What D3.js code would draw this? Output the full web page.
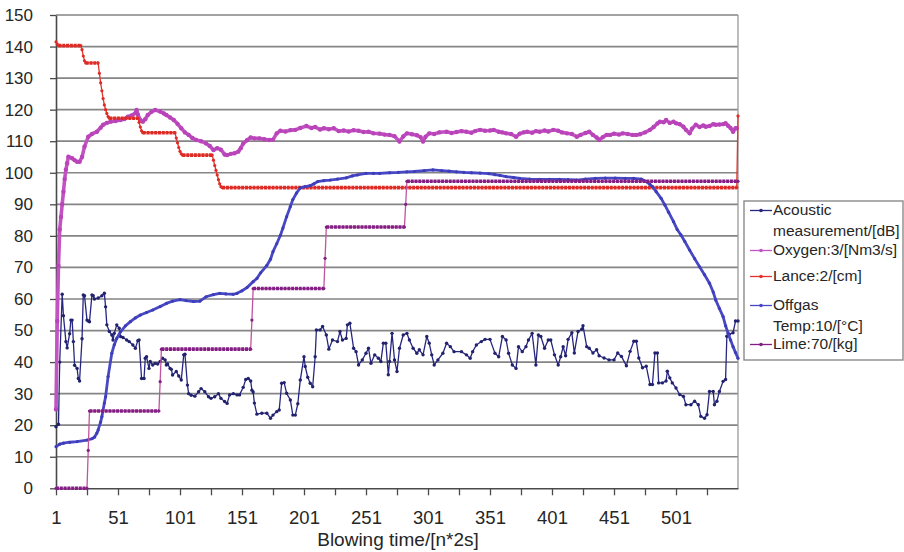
<!DOCTYPE html>
<html>
<head>
<meta charset="utf-8">
<script src="https://cdn.jsdelivr.net/npm/d3@7/dist/d3.min.js"></script>
<style>
  body { margin: 0; background: #fff; }
  text { font-family: "Liberation Sans", Arial, sans-serif; fill: #262626; }
</style>
</head>
<body>
<script>

// [blowing time index, value]
const acoustic = [[1,19.5],[3,20.3],[4,40],[6,61.5],[7,54.7],[9,46.5],[10,44.5],[12,49],[13,53.3],[14,53.3],[15,46.5],[16,39],[18,38],[19,34.8],[20,34],[22,47.4],[23,61.3],[24,61],[26,53.3],[27,53],[28,52.8],[30,61.3],[31,61],[32,60],[35,60.3],[38,61],[40,61.8],[41,57.5],[42,51.8],[44,49.7],[46,48.6],[47,47],[48,49.1],[50,51.8],[52,50.7],[53,48.1],[55,47.8],[58,47],[60,46.5],[63,45.4],[65,44.4],[67,46.8],[68,47],[70,34.8],[72,34.8],[73,41.2],[74,41.7],[76,38],[77,40.2],[79,39.1],[81,39.6],[83,39.4],[85,40.2],[87,41.2],[89,40.7],[90,39.1],[91,39.4],[93,38],[94,37.7],[95,35.9],[98,37],[100,35.6],[102,34.3],[104,42.3],[105,42.5],[107,32.7],[108,30],[110,29.5],[113,29.2],[116,30.6],[118,31.6],[121,30.6],[124,29],[126,28.5],[129,29],[132,30],[134,28.5],[137,27.5],[139,26.9],[141,29.6],[144,30],[147,29.6],[149,29.6],[152,32],[154,34.5],[156,34.8],[158,34],[159,31.1],[160,30.5],[161,27],[163,23.5],[167,23.8],[171,23.8],[174,22.2],[176,23.2],[179,24.3],[181,24.8],[183,33.3],[185,33.5],[187,30.1],[190,28],[192,23.2],[194,23.2],[196,26.8],[198,34.3],[201,41.7],[202,38.6],[204,35.2],[206,33.3],[208,32.2],[210,41.7],[211,50.2],[214,50.2],[216,51.3],[219,48.6],[221,44.1],[224,47],[228,46.5],[230,49.7],[232,47],[235,47.5],[236,51.8],[238,52.3],[241,44.4],[243,43.3],[245,39.1],[248,40.7],[251,42.8],[253,44.4],[255,39.6],[258,42.3],[261,41.2],[263,40.2],[265,46],[267,46],[269,36],[270,40.2],[272,49.1],[274,40.7],[276,37],[278,44.4],[281,48.6],[284,49.1],[286,47],[289,44.4],[292,42.8],[294,43.9],[297,42.3],[300,48.1],[302,46],[304,42.3],[306,39.1],[309,40.7],[313,42.8],[316,46],[319,44.9],[322,43.3],[328,43.3],[332,42.3],[335,41.2],[337,43.3],[340,45.4],[344,46.5],[347,47.2],[351,47.2],[355,42.8],[358,41.7],[361,48.1],[364,47],[366,42.8],[369,39.1],[372,38],[374,44.9],[377,43.3],[380,44.9],[382,47],[385,49.1],[388,39.1],[390,48.6],[392,48.1],[395,44.4],[398,47],[400,47],[403,42.3],[406,39.1],[408,41.7],[410,44.9],[412,42],[414,47.2],[417,49.3],[419,42.9],[422,49.7],[425,50.4],[426,51.5],[429,44.9],[431,44.4],[434,42.9],[437,43.9],[439,42],[443,41.3],[447,40.7],[451,40.7],[454,42.9],[457,41.8],[461,38.8],[464,43.4],[467,46.6],[469,46.6],[471,41.3],[474,38.2],[477,38.7],[480,32.9],[482,32.9],[484,42.9],[486,42.9],[487,33.4],[490,33.4],[493,34],[494,37.1],[496,35],[498,33.4],[501,31.8],[504,29.7],[507,29.1],[509,26.5],[513,26.5],[516,27.6],[519,26.5],[521,22.8],[524,22.2],[526,23.3],[528,30.7],[531,30.7],[532,26.5],[534,27.6],[536,30.7],[539,33.9],[541,34.5],[542,48.2],[544,48.8],[547,49.3],[549,53],[551,53]];

const oxygen = [[1,25],[2,53],[3,70.5],[4,82],[5,86],[6,90],[7,94],[8,98],[9,101],[10,103],[11,105.1],[14,104.6],[16,104],[18,103.5],[20,103.5],[22,105],[24,108.3],[27,111.4],[30,112.3],[34,113],[37,114.3],[39,115.2],[42,115.8],[45,116.2],[49,116.4],[53,116.7],[56,117],[59,117.8],[62,118.2],[65,118.9],[66,119.9],[67,118.5],[69,116.7],[71,116.2],[73,117],[75,118.3],[78,119.3],[81,119.9],[85,119.4],[88,118.8],[90,118.3],[93,117.5],[96,116.7],[99,115.5],[102,114.1],[105,112.8],[108,112],[111,111],[114,110.4],[118,110],[122,109.3],[125,108.5],[128,107.2],[131,107.8],[134,107.3],[137,105.8],[139,105.6],[142,106],[145,106.2],[148,106.7],[150,107.8],[152,109.3],[155,110.3],[158,111.2],[161,110.9],[165,110.9],[169,110.6],[173,110.4],[176,110.5],[179,112.5],[182,113.3],[186,113.1],[190,113.5],[194,113.6],[198,114.2],[203,114.8],[207,114.2],[210,114.5],[214,113.7],[217,114.1],[221,113.8],[225,114.1],[229,113.2],[233,113.4],[237,113.1],[241,113.5],[245,113.3],[249,112.9],[253,113],[257,112.5],[262,112.4],[266,112.1],[270,112],[274,111.6],[278,109.9],[281,111.5],[284,112.5],[288,112.2],[292,111.9],[295,111.3],[297,109.9],[299,111.4],[302,112.5],[306,112.3],[310,112.8],[316,113],[320,112.6],[324,112.9],[328,113.2],[332,113],[336,112.7],[339,113.2],[343,113.6],[347,113.3],[351,113.4],[354,113.6],[358,113],[361,112.8],[364,112.5],[368,112.3],[372,111.4],[375,112.4],[378,112.8],[381,113],[385,112.7],[388,113.2],[391,113],[395,113.4],[398,113.1],[402,113.6],[406,113.3],[409,112.8],[413,112.5],[417,112.3],[421,111.4],[424,112],[428,112.6],[431,113],[434,112],[437,111.2],[439,110.4],[442,111.3],[445,112],[448,112],[451,112.4],[455,112.1],[458,112.5],[462,112.3],[466,112],[469,112],[472,112.2],[476,112.8],[480,113.6],[483,114.5],[486,115.6],[488,116.2],[491,116],[493,116.7],[496,115.8],[499,116.2],[501,115.7],[504,115.4],[507,114.6],[509,113.6],[512,112.5],[514,114],[517,115.2],[520,114.5],[523,115],[525,114.6],[528,114.8],[531,115.4],[533,115.2],[536,115.3],[539,115.4],[541,115.7],[543,114.9],[545,114.2],[547,113],[549,114.1],[550,114.1]];

const lance = [[1,141.5],[2,140.8],[3,140.3],[21,140.3],[22,139],[23,137],[24,135.5],[25,134.8],[35,134.8],[36,131.5],[37,128.5],[38,126],[39,123.5],[40,121.5],[41,120],[42,118.8],[43,117.8],[44,117.3],[67,117.3],[68,116],[69,114.5],[70,113.3],[71,112.7],[97,112.7],[98,111],[99,109.5],[100,108],[101,106.8],[102,106],[103,105.6],[127,105.6],[128,104],[129,102.3],[130,100.8],[131,99.3],[132,97.8],[133,96.5],[134,95.6],[135,95.3],[550,95.3],[551,118]];

const offgas = [[1,13.2],[4,14],[7,14.3],[12,14.6],[18,14.8],[26,15.3],[30,15.7],[32,16.2],[34,17.5],[35,18.5],[37,21],[38,22.7],[40,27],[41,29],[43,35.4],[46,42.8],[48,45.5],[50,47.5],[53,49.6],[57,51.5],[61,52.8],[65,54],[69,54.9],[74,55.7],[79,56.5],[85,57.6],[90,58.6],[95,59.3],[101,59.8],[106,59.5],[112,59.2],[117,59.3],[122,60.7],[128,61.4],[133,61.8],[138,61.6],[144,61.5],[147,61.8],[151,62.6],[155,63.6],[160,65.5],[163,66.5],[166,68.3],[171,70.6],[174,72.6],[176,75],[179,77.5],[182,80.2],[184,82.5],[187,86.1],[190,89.3],[192,91.5],[195,93.6],[198,95.2],[202,95.6],[206,95.9],[209,96.5],[212,97.2],[217,97.5],[222,97.7],[228,98],[235,98.4],[240,99],[244,99.3],[251,99.8],[257,99.8],[262,99.8],[270,100],[277,100.1],[284,100.3],[290,100.4],[298,100.7],[305,100.9],[312,100.7],[318,100.5],[324,100.3],[330,100.1],[336,100],[343,99.9],[350,99.7],[355,99.4],[359,99.2],[364,98.8],[370,98.5],[375,98.2],[383,98],[391,97.9],[399,97.9],[407,97.9],[414,97.8],[421,97.7],[428,98],[436,98.2],[444,98.3],[452,98.3],[460,98.2],[467,98.2],[473,98],[477,97.2],[480,96.3],[482,95.6],[485,94],[489,91.9],[492,89.8],[495,87.5],[499,84.5],[502,82],[505,80.3],[508,78.3],[512,75.5],[516,72.8],[520,70.2],[524,67.7],[528,65],[531,62.2],[533,59.7],[536,57],[539,54.4],[541,51.5],[543,49.1],[545,47],[547,44.9],[549,43],[551,41.2]];

const lime = [[1,0],[26,0],[27,12],[28,24.5],[84,24.5],[85,33.8],[86,44.1],[158,44.1],[159,53.3],[160,63.3],[217,63.3],[218,72.9],[219,82.8],[282,82.8],[283,90],[284,97.3],[551,97.3]];

const yLabels = [0, 10, 20, 30, 40, 50, 60, 70, 80, 90, 100, 110, 120, 130, 140, 150];
const xTicks = [1, 26, 51, 76, 101, 126, 151, 176, 201, 226, 251, 276, 301, 326, 351, 376, 401, 426, 451, 476, 501, 526];
const xLabels = [1, 51, 101, 151, 201, 251, 301, 351, 401, 451, 501];
const xTitle = "Blowing time/[n*2s]";
const legendLabels = [
  ["Acoustic", "measurement/[dB]"],
  ["Oxygen:3/[Nm3/s]"],
  ["Lance:2/[cm]"],
  ["Offgas", "Temp:10/[°C]"],
  ["Lime:70/[kg]"]
];

const width = 904, height = 552;
const plotLeft = 56, plotRight = 738, plotTop = 15, plotBottom = 488.3;

const svg = d3.select("body")
  .append("svg")
  .attr("width", width)
  .attr("height", height);

const x = d3.scaleLinear().domain([1, 551]).range([plotLeft, plotRight]);
const y = d3.scaleLinear().domain([0, 150]).range([plotBottom, plotTop]);

const line = d3.line()
  .x(d => x(d[0]))
  .y(d => y(d[1]));

// grid
svg.append("g")
  .selectAll("line")
  .data(yLabels.filter(v => v > 0))
  .enter()
    .append("line")
    .attr("x1", plotLeft)
    .attr("x2", plotRight)
    .attr("y1", d => y(d))
    .attr("y2", d => y(d))
    .attr("stroke", "#858585")
    .attr("stroke-width", 1.7);

svg.append("line")
  .attr("x1", plotRight).attr("x2", plotRight)
  .attr("y1", plotTop).attr("y2", plotBottom)
  .attr("stroke", "#9a9a9a")
  .attr("stroke-width", 1.3);

const yAxis = svg.append("g")
  .attr("transform", `translate(${plotLeft},0)`)
  .call(d3.axisLeft(y).tickValues(yLabels).tickSize(6).tickSizeOuter(0).tickPadding(17));

const xAxis = svg.append("g")
  .attr("transform", `translate(0,${plotBottom})`)
  .call(d3.axisBottom(x).tickValues(xTicks).tickSize(7).tickSizeOuter(0).tickPadding(15.5)
    .tickFormat(d => xLabels.includes(d) ? d : ""));

[yAxis, xAxis].forEach(a => {
  a.select(".domain").attr("stroke", "#4a4a4a").attr("stroke-width", 1.6);
  a.selectAll(".tick line").attr("stroke", "#4a4a4a").attr("stroke-width", 1.3);
  a.selectAll("text").attr("fill", "#262626").attr("font-family", "Liberation Sans, Arial, sans-serif");
});
yAxis.selectAll("text").attr("font-size", 17);
xAxis.selectAll("text").attr("font-size", 18.5);

svg.append("text")
  .attr("x", (plotLeft + plotRight) / 2 + 1)
  .attr("y", 546)
  .attr("text-anchor", "middle")
  .attr("font-size", 19)
  .text(xTitle);

const plot = svg.append("g");

function drawSmooth(data, color, w, r, markColor) {
  plot.append("path")
    .datum(data)
    .attr("d", line)
    .attr("fill", "none")
    .attr("stroke", color)
    .attr("stroke-width", w)
    .attr("stroke-linejoin", "round");
  plot.append("g")
    .selectAll("circle")
    .data(data)
    .enter()
      .append("circle")
      .attr("cx", d => x(d[0]))
      .attr("cy", d => y(d[1]))
      .attr("r", r)
      .attr("fill", markColor);
}

function drawStep(data, color, flatColor) {
  plot.append("path")
    .datum(data)
    .attr("d", line)
    .attr("fill", "none")
    .attr("stroke", color)
    .attr("stroke-width", 1.3);
  plot.append("g")
    .selectAll("line")
    .data(d3.pairs(data).filter(p => p[0][1] === p[1][1]))
    .enter()
      .append("line")
      .attr("x1", p => x(p[0][0]))
      .attr("x2", p => x(p[1][0]))
      .attr("y1", p => y(p[0][1]))
      .attr("y2", p => y(p[1][1]))
      .attr("stroke", flatColor)
      .attr("stroke-width", 3.6)
      .attr("stroke-dasharray", "3,0.8");
  plot.append("g")
    .selectAll("circle")
    .data(data)
    .enter()
      .append("circle")
      .attr("cx", d => x(d[0]))
      .attr("cy", d => y(d[1]))
      .attr("r", 1.6)
      .attr("fill", flatColor);
}

const colors = {
  acoustic: "#262680",
  oxygen: "#c254c2",
  lance: "#e2342c",
  offgas: "#4848c4",
  lime: "#c0559f",
  limeFlat: "#821f84"
};

drawSmooth(acoustic, colors.acoustic, 1.3, 1.7, "#22226e");
drawSmooth(oxygen, colors.oxygen, 3.6, 2.2, "#b944b9");
drawStep(lance, colors.lance, "#df2b25");
drawSmooth(offgas, colors.offgas, 2.8, 1.6, "#3d3dbb");
drawStep(lime, colors.lime, colors.limeFlat);

// legend
const legend = svg.append("g");
legend.append("rect")
  .attr("x", 744)
  .attr("y", 201)
  .attr("width", 159)
  .attr("height", 159)
  .attr("fill", "#fff")
  .attr("stroke", "#8a8a8a")
  .attr("stroke-width", 1.4);

const legendColors = [colors.acoustic, colors.oxygen, colors.lance, colors.offgas, colors.limeFlat];
const legendBase = [215, 255, 281, 310, 349];

legendLabels.forEach((lines, i) => {
  const b = legendBase[i];
  legend.append("line")
    .attr("x1", 750).attr("x2", 772)
    .attr("y1", b - 4.5).attr("y2", b - 4.5)
    .attr("stroke", legendColors[i])
    .attr("stroke-width", 1.3);
  legend.append("circle")
    .attr("cx", 761).attr("cy", b - 4.5)
    .attr("r", 1.8)
    .attr("fill", legendColors[i]);
  lines.forEach((t, k) => {
    legend.append("text")
      .attr("x", 773)
      .attr("y", b + k * 20.5)
      .attr("font-size", 15.5)
      .text(t);
  });
});

</script>
</body>
</html>
